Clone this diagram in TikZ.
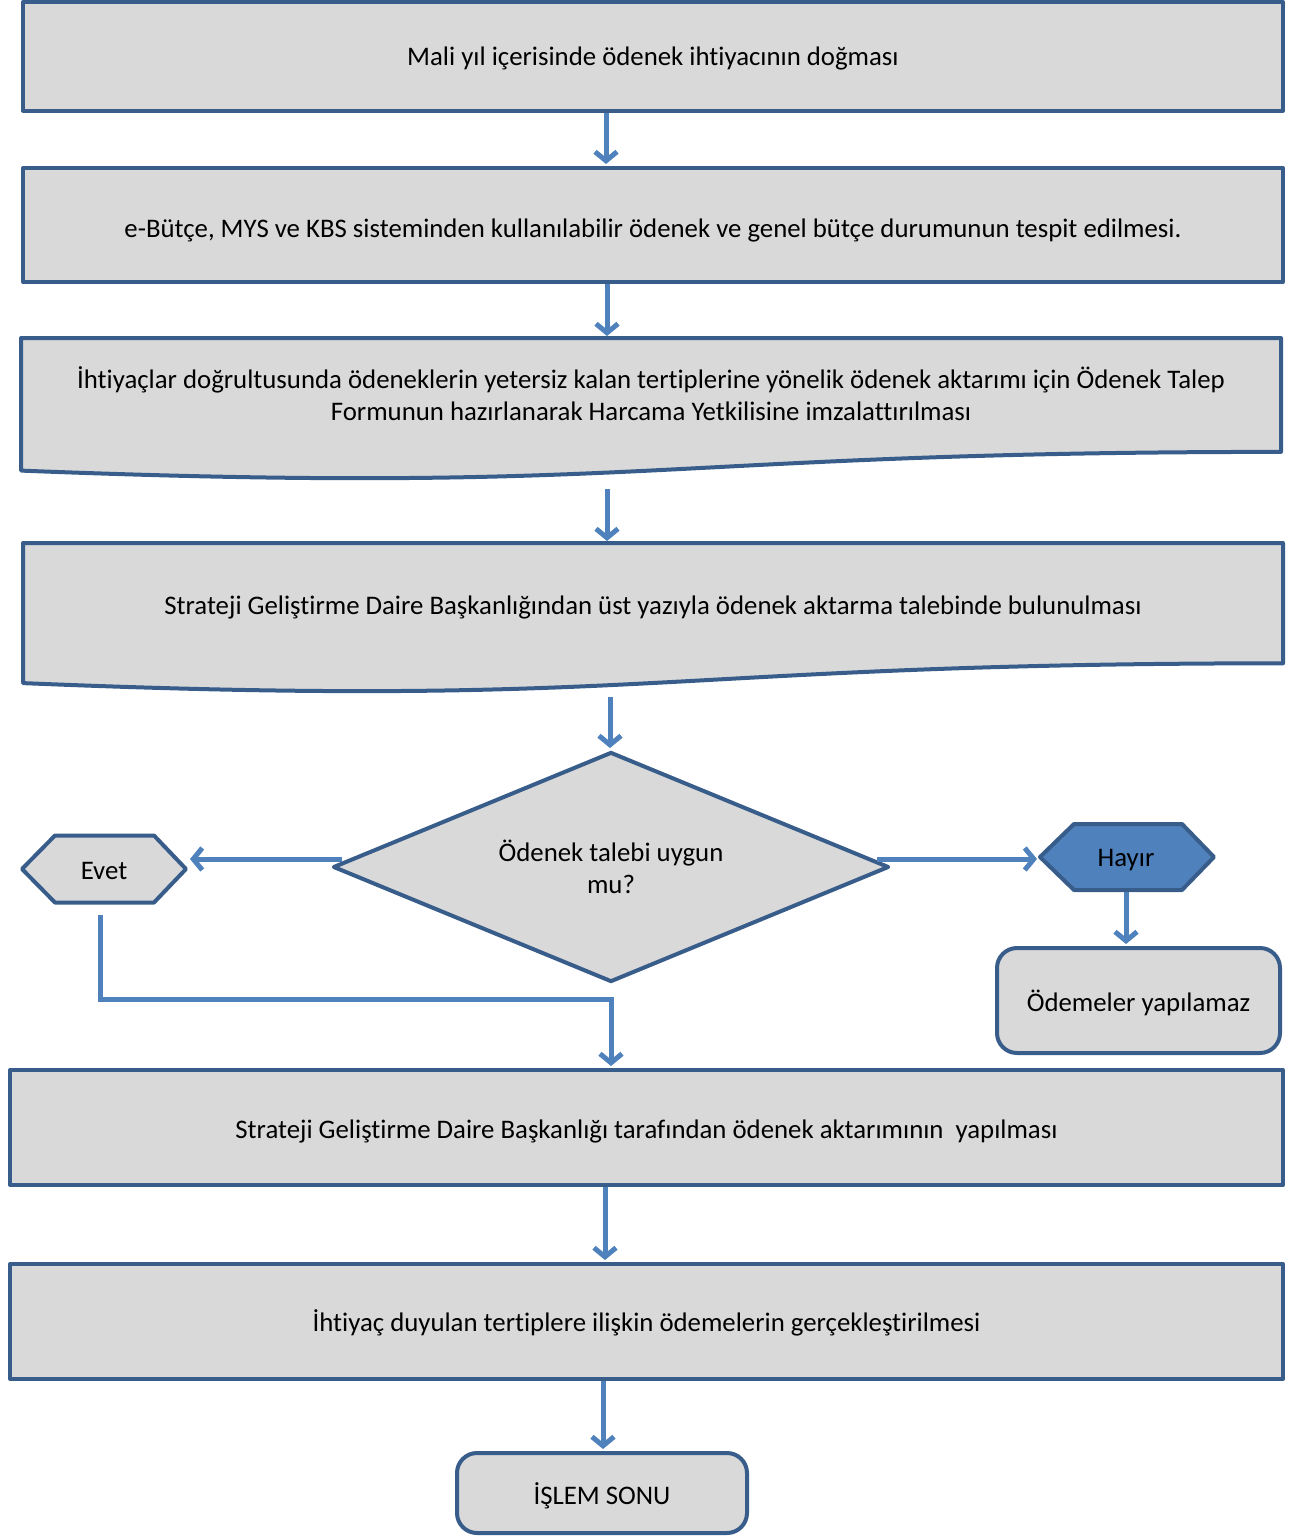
\documentclass[tikz,border=0pt]{standalone}
\usepackage{fontspec}
\setmainfont{Carlito}[RawFeature={-liga,-clig,-calt,-dlig}]
\usetikzlibrary{arrows.meta,shapes.geometric,calc}
\definecolor{boxline}{HTML}{385D8A}
\definecolor{boxfill}{HTML}{D9D9D9}
\definecolor{conn}{HTML}{4F81BD}
\newcommand\lowerby[2]{\raisebox{-#1}[\height][\depth]{#2}}
\begin{document}
\begin{tikzpicture}[x=1pt,y=-1pt,
  every node/.style={font=\fontsize{26.8}{32}\selectfont, text=black, align=center},
  shapeline/.style={draw=boxline, fill=boxfill, line width=4pt, line join=round},
  box/.style={shapeline, rectangle, inner sep=0pt},
  rbox/.style={shapeline, rectangle, rounded corners=20pt, inner sep=0pt},
  conn/.style={draw=conn, line width=5pt, -{Straight Barb[length=9pt,width=22pt,line width=5pt]}}
]
\useasboundingbox (0,0) rectangle (1294,1537);

% box 1
\node[box, minimum width=1260pt, minimum height=108.5pt] (b1) at (653,56.25) {\lowerby{2pt}{Mali yıl içerisinde ödenek ihtiyacının doğması}};
% box 2
\node[box, minimum width=1260pt, minimum height=114pt] (b2) at (653,225) {\lowerby{5pt}{e-Bütçe, MYS ve KBS sisteminden kullanılabilir ödenek ve genel bütçe durumunun tespit edilmesi.}};
% document 3
\draw[shapeline] (21,338) -- (1281,338) -- (1281,451.9) .. controls (651,451.9) and (651,495.3) .. (21,470.6) -- cycle;
\node (b3) at (651,394) {İhtiyaçlar doğrultusunda ödeneklerin yetersiz kalan tertiplerine yönelik ödenek aktarımı için Ödenek Talep\\Formunun hazırlanarak Harcama Yetkilisine imzalattırılması};
\coordinate (b3t) at (607,338);
\coordinate (b3b) at (607,489);
% document 4
\draw[shapeline] (23,543) -- (1283,543) -- (1283,663.3) .. controls (653,663.3) and (653,709.2) .. (23,683.1) -- cycle;
\node (b4) at (653,607) {Strateji Geliştirme Daire Başkanlığından üst yazıyla ödenek aktarma talebinde bulunulması};
\coordinate (b4t) at (607,543);
\coordinate (b4b) at (610,697);
% diamond
\node[shapeline, diamond, aspect=2.42, minimum width=556pt, minimum height=230pt, inner sep=0pt] (dia) at (611,867) {Ödenek talebi uygun\\mu?};
% hexagons
\draw[shapeline] (22,869) -- (55,835.5) -- (154,835.5) -- (186,869) -- (154,902.5) -- (55,902.5) -- cycle;
\node (evet) at (104,871) {Evet};
\coordinate (evetE) at (190,859);
\coordinate (evetS) at (100,915);
\draw[shapeline, fill=conn] (1040,857) -- (1074,824) -- (1182,824) -- (1214,857) -- (1182,890) -- (1074,890) -- cycle;
\node (hay) at (1126,860) {Hayır};
\coordinate (hayW) at (1037,859);
\coordinate (hayS) at (1126,892);
% rounded boxes
\node[rbox, minimum width=283pt, minimum height=105pt] (ode) at (1138.5,1000.5) {\lowerby{2pt}{Ödemeler yapılamaz}};
\node[box, minimum width=1273pt, minimum height=115pt] (b5) at (646.5,1127.5) {\lowerby{4pt}{Strateji Geliştirme Daire Başkanlığı tarafından ödenek aktarımının~ yapılması}};
\node[box, minimum width=1273pt, minimum height=115pt] (b6) at (646.5,1321.5) {\lowerby{1pt}{İhtiyaç duyulan tertiplere ilişkin ödemelerin gerçekleştirilmesi}};
\node[rbox, minimum width=290pt, minimum height=80pt] (end) at (602,1493) {\lowerby{3pt}{İŞLEM SONU}};

% connectors
\draw[conn] (b1.south -| 606,0) -- ($(b2.north -| 606,0)+(0,-2)$);
\draw[conn] (b2.south -| 607,0) -- ($(b3t)+(0,-2)$);
\draw[conn] (b3b) -- ($(b4t)+(0,-2)$);
\draw[conn] (b4b) -- ($(dia.north -| 610,0)+(0,-2)$);
\draw[conn] ($(dia.west)+(11,-8)$) -- (evetE);
\draw[conn] ($(dia.east)+(-14,-8)$) -- (hayW);
\draw[conn] (hayS) -- ($(ode.north -| hayS)+(0,-2)$);
\draw[conn] (evetS) |- (611,999) -- ($(b5.north -| 611,0)+(0,-2)$);
\draw[conn] (b5.south -| 605,0) -- ($(b6.north -| 605,0)+(0,-2)$);
\draw[conn] (b6.south -| 603,0) -- ($(end.north -| 603,0)+(0,-2)$);
\end{tikzpicture}
\end{document}
